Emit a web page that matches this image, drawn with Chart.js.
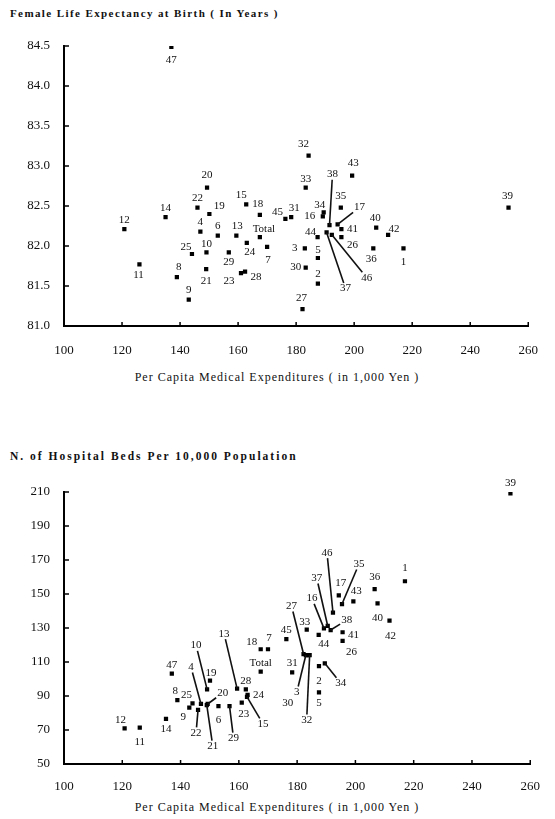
<!DOCTYPE html>
<html><head><meta charset="utf-8">
<script src="https://cdn.jsdelivr.net/npm/chart.js@4"></script>
<style>
body{margin:0;background:#fff;width:555px;height:819px;position:relative;overflow:hidden;}
canvas{position:absolute;left:0;}
.t{position:absolute;font-family:"Liberation Serif",serif;font-weight:bold;font-size:11px;letter-spacing:1.4px;color:#111;white-space:nowrap;}
.t2{font-size:11.5px;letter-spacing:2px;}
.xt{position:absolute;font-family:"Liberation Serif",serif;font-size:12px;letter-spacing:1px;color:#111;white-space:nowrap;transform:translateX(-50%);}
</style></head><body>
<div class="t" style="left:10px;top:7px;">Female Life Expectancy at Birth ( In Years )</div>
<div class="xt" style="left:277px;top:370px;">Per Capita Medical Expenditures ( in 1,000 Yen )</div>
<div class="t t2" style="left:10px;top:450px;">N. of Hospital Beds Per 10,000 Population</div>
<div class="xt" style="left:277px;top:800px;">Per Capita Medical Expenditures ( in 1,000 Yen )</div>
<canvas id="c1" width="555" height="400" style="top:0px"></canvas>
<canvas id="c2" width="555" height="400" style="top:420px"></canvas>
<script>
// ---- data ----
const prefectures = ['1','2','3','4','5','6','7','8','9','10','11','12','13','14','15','16','17','18','19','20','21','22','23','24','25','26','27','28','29','30','31','32','33','34','35','36','37','38','39','40','41','42','43','44','45','46','47','Total'];
const expenditure = [217,187.5,183,147,187.5,153,170,138.9,143,149.1,126,120.8,159.4,135,162.8,189.2,194.3,167.5,150.1,149.3,149,146,161,163,144.1,195.6,182.2,162.4,156.8,183.3,178.3,184.3,183.3,189.5,195.4,206.6,190.5,191.5,253.2,207.6,195.6,211.7,199.3,187.4,176.3,192.3,137,167.5];
const lifeExpectancy = [81.97,81.53,81.97,82.18,81.85,82.13,81.99,81.61,81.33,81.92,81.77,82.21,82.13,82.36,82.52,82.37,82.27,82.39,82.40,82.73,81.71,82.48,81.66,82.04,81.90,82.11,81.21,81.68,81.92,81.73,82.36,83.13,82.73,82.42,82.48,81.97,82.17,82.26,82.48,82.23,82.21,82.14,82.88,82.11,82.34,82.14,84.49,82.11];
const hospitalBeds = [157.5,107.6,114.1,85.3,92.2,84.1,117.5,87.6,83.1,93.9,71.4,71.0,94.3,76.5,89.5,129.8,149.2,117.5,99.0,85.3,84.6,81.8,86.1,90.7,85.7,122.4,114.7,93.9,84.1,114.1,103.9,114.1,129.0,109.2,144.1,152.8,131.2,128.8,209.2,144.5,127.5,134.3,145.6,125.9,123.5,139.0,103.1,104.3];
const xTicks = {min:100, max:260, step:20};
const yTicksLife = {min:81, max:84.5, step:0.5};
const yTicksBeds = {min:50, max:210, step:20};

// ---- label placement (offset from point in px, 1 = leader line) ----
const topLabelPos = {'1':[0,14],'2':[0,-9],'3':[-10,0],'4':[0,-9],'5':[0,-8],'6':[0,-9],'7':[1,13],'8':[2,-10],'9':[0,-9],'10':[0,-8],'11':[-1,11],'12':[0,-9],'13':[1,-9],'14':[0,-9],'15':[-5,-9],'16':[-13,0],'17':[22,-17,1],'18':[-2,-11],'19':[10,-8],'20':[0,-12],'21':[0,12],'22':[0,-9],'23':[-12,8],'24':[3,9],'25':[-6,-7],'26':[11,8],'27':[-1,-11],'28':[11,6],'29':[0,10],'30':[-10,0],'31':[3,-9],'32':[-5,-11],'33':[0,-8],'34':[-4,-7],'35':[0,-11],'36':[-2,11],'37':[19,56,1],'38':[3,-51,1],'39':[-1,-11],'40':[-1,-9],'41':[11,0],'42':[6,-6],'43':[1,-12],'44':[-7,-5],'45':[-8,-7],'46':[35,43,1],'47':[0,13],'Total':[4,-8]};
const bottomLabelPos = {'1':[0,-13],'2':[0,15],'3':[-9,37,1],'4':[-10,-37,1],'5':[0,11],'6':[0,14],'7':[1,-11],'8':[-2,-9],'9':[-6,9],'10':[-11,-44,1],'11':[0,14],'12':[-4,-8],'13':[-13,-55,1],'14':[0,10],'15':[16,27,1],'16':[-12,-30,1],'17':[2,-12],'18':[-9,-7],'19':[1,-8],'20':[15,-11,1],'21':[6,41,1],'22':[-2,23,1],'23':[2,11],'24':[11,0],'25':[-6,-8],'26':[9,11],'27':[-12,-48,1],'28':[0,-8],'29':[4,32,1],'30':[-19,48],'31':[0,-9],'32':[-3,65,1],'33':[-2,-8],'34':[16,20,1],'35':[17,-40,1],'36':[0,-12],'37':[-11,-48,1],'38':[16,-10,1],'39':[0,-10],'40':[0,15],'41':[11,3],'42':[1,15],'43':[3,-10],'44':[5,9],'45':[0,-9],'46':[-6,-60,1],'47':[0,-9],'Total':[0,-9]};

const SERIF = '"Liberation Serif", serif';

const labelPlugin = {
  id:'pointLabels',
  afterDatasetsDraw(chart, args, opts){
    const ctx = chart.ctx;
    const meta = chart.getDatasetMeta(0);
    const pos = opts.pos;
    ctx.save();
    ctx.font = '11px ' + SERIF;
    ctx.textAlign = 'center';
    ctx.textBaseline = 'middle';
    ctx.fillStyle = '#111';
    ctx.strokeStyle = '#111';
    ctx.lineWidth = 1.6;
    meta.data.forEach((pt, i) => {
      const name = prefectures[i];
      const p = pos[name] || [0,-9];
      const lx = pt.x + p[0], ly = pt.y + p[1];
      ctx.fillText(name, lx, ly);
      if (p[2]) {
        const w = ctx.measureText(name).width/2 + 1, h = 5.5;
        const dx = p[0], dy = p[1];
        let t = 1;
        if (Math.abs(dx) > 0) t = Math.min(t, w/Math.abs(dx));
        if (Math.abs(dy) > 0) t = Math.min(t, h/Math.abs(dy));
        ctx.beginPath();
        ctx.moveTo(pt.x, pt.y);
        ctx.lineTo(lx - dx*t, ly - dy*t);
        ctx.stroke();
      }
    });
    ctx.restore();
  }
};

const innerTicks = {
  id:'innerTicks',
  afterDraw(chart){
    const ctx = chart.ctx, a = chart.chartArea;
    ctx.save();
    ctx.strokeStyle = '#000';
    ctx.lineWidth = 1.5;
    const xs = chart.scales.x, ys = chart.scales.y;
    xs.ticks.forEach(t => {
      const px = xs.getPixelForValue(t.value);
      ctx.beginPath(); ctx.moveTo(px, a.bottom); ctx.lineTo(px, a.bottom-4); ctx.stroke();
    });
    ys.ticks.forEach(t => {
      const py = ys.getPixelForValue(t.value);
      ctx.beginPath(); ctx.moveTo(a.left, py); ctx.lineTo(a.left+5, py); ctx.stroke();
    });
    ctx.restore();
  }
};

function makeChart(id, yValues, yT, pos, padTop, xHeight, xPad, yDecimals){
  return new Chart(document.getElementById(id), {
    type:'scatter',
    data:{datasets:[{
      data: expenditure.map((x,i)=>({x:x, y:yValues[i]})),
      pointStyle:'rect', pointRadius:3, backgroundColor:'#000', borderWidth:0
    }]},
    options:{
      responsive:false, animation:false,
      layout:{padding:{top:padTop, right:17, left:0, bottom:0}},
      plugins:{legend:{display:false}, tooltip:{enabled:false}, pointLabels:{pos:pos}},
      scales:{
        x:{type:'linear', min:xTicks.min, max:xTicks.max,
           ticks:{stepSize:xTicks.step, padding:xPad, color:'#111', font:{family:SERIF, size:13}, maxRotation:0},
           grid:{display:false, drawTicks:false},
           border:{display:true, color:'#000', width:2},
           afterFit(s){ s.height = xHeight; }},
        y:{type:'linear', min:yT.min, max:yT.max,
           ticks:{stepSize:yT.step, padding:14, color:'#111', font:{family:SERIF, size:13},
                  callback:v=>Number(v).toFixed(yDecimals)},
           grid:{display:false, drawTicks:false},
           border:{display:true, color:'#000', width:2},
           afterFit(s){ s.width = 64; }}
      }
    },
    plugins:[labelPlugin, innerTicks]
  });
}

makeChart('c1', lifeExpectancy, yTicksLife, topLabelPos, 46, 74, 17, 1);
makeChart('c2', hospitalBeds, yTicksBeds, bottomLabelPos, 72, 56, 15, 0);
</script>
</body></html>
